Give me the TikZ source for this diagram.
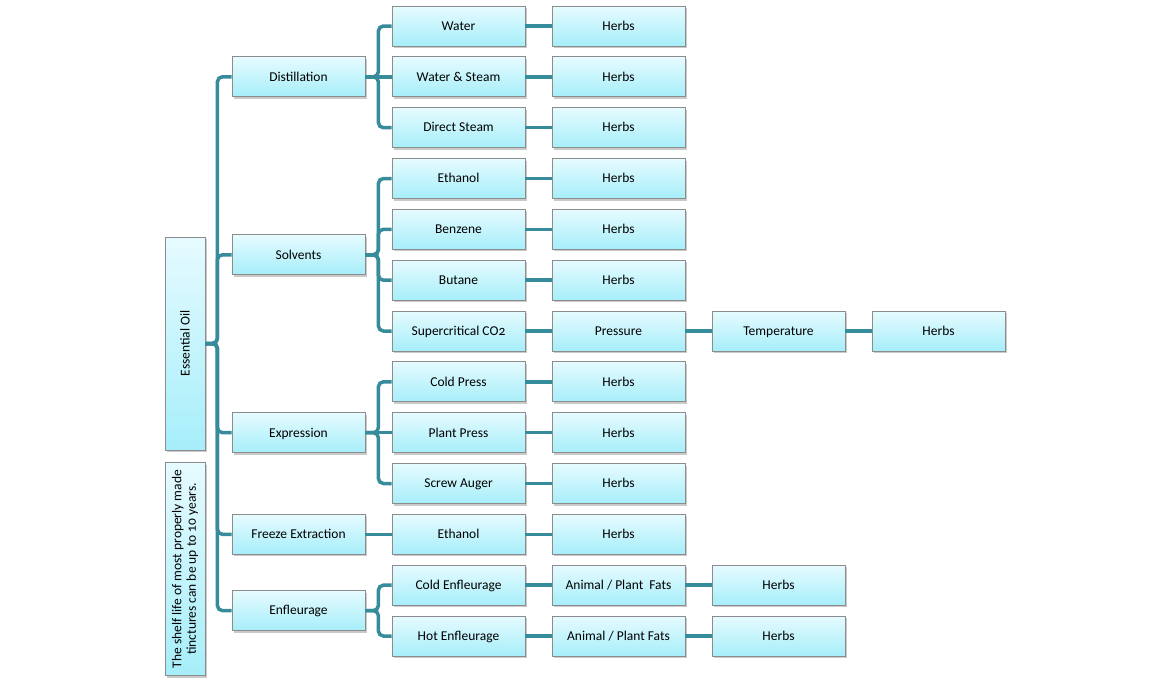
\documentclass[tikz,border=0pt]{standalone}
\usepackage{fontspec}
\setmainfont{Carlito}[Numbers=OldStyle]
\usepackage{tikz}
\usetikzlibrary{shadows}

\definecolor{boxtop}{RGB}{230,251,255}
\definecolor{boxbot}{RGB}{166,238,250}
\definecolor{boxline}{RGB}{140,140,140}
\definecolor{linkcol}{RGB}{55,140,155}

\tikzset{
  box/.style={draw=boxline, line width=0.8pt, top color=boxtop, bottom color=boxbot,
    minimum width=133pt, minimum height=40pt, inner sep=0pt,
    text height=2.2ex, text depth=.4ex,
    font=\fontsize{13.5}{15}\selectfont,
    drop shadow={shadow xshift=2pt, shadow yshift=-2pt, opacity=0.35, fill=black!60}},
  sidebox/.style={box, minimum width=40pt, minimum height=213pt, text height=, text depth=},
  link/.style={draw=linkcol, line width=3.5pt, rounded corners=5pt},
}

\begin{document}
\begin{tikzpicture}[x=1pt,y=-1pt]
  \useasboundingbox (0,0) rectangle (1170,688);

  %Shape: side boxes
  \node[sidebox] (root) at (185,343.5) {};
  \node[rotate=90, font=\fontsize{13.5}{15}\selectfont] at (root) {Essential Oil};
  \node[sidebox] (shelf) at (185,569) {};
  \node[rotate=90, align=center, font=\fontsize{13.5}{14.5}\selectfont] at (shelf)
    {The shelf life of most properly made\\tinctures can be up to 10 years.};

  % Methods
  \node[box] (dist) at (298.5,76.8) {Distillation};
  \node[box] (solv) at (298.5,254.8) {Solvents};
  \node[box] (expr) at (298.5,432.7) {Expression};
  \node[box] (frz)  at (298.5,534.3) {Freeze Extraction};
  \node[box] (enfl) at (298.5,610.6) {Enfleurage};

  % Variants
  \node[box] (water)  at (458.5,26)    {Water};
  \node[box] (wsteam) at (458.5,76.8)  {Water \& Steam};
  \node[box] (dsteam) at (458.5,127.7) {Direct Steam};
  \node[box] (eth)    at (458.5,178.5) {Ethanol};
  \node[box] (benz)   at (458.5,229.3) {Benzene};
  \node[box] (but)    at (458.5,280.2) {Butane};
  \node[box] (scco)   at (458.5,331)   {Supercritical CO2};
  \node[box] (cold)   at (458.5,381.8) {Cold Press};
  \node[box] (plant)  at (458.5,432.7) {Plant Press};
  \node[box] (screw)  at (458.5,483.5) {Screw Auger};
  \node[box] (feth)   at (458.5,534.3) {Ethanol};
  \node[box] (cenf)   at (458.5,585.2) {Cold Enfleurage};
  \node[box] (henf)   at (458.5,636)   {Hot Enfleurage};

  % Herbs
  \node[box] (h1)  at (618.5,26)    {Herbs};
  \node[box] (h2)  at (618.5,76.8)  {Herbs};
  \node[box] (h3)  at (618.5,127.7) {Herbs};
  \node[box] (h4)  at (618.5,178.5) {Herbs};
  \node[box] (h5)  at (618.5,229.3) {Herbs};
  \node[box] (h6)  at (618.5,280.2) {Herbs};
  \node[box] (pres) at (618.5,331)  {Pressure};
  \node[box] (h8)  at (618.5,381.8) {Herbs};
  \node[box] (h9)  at (618.5,432.7) {Herbs};
  \node[box] (h10) at (618.5,483.5) {Herbs};
  \node[box] (h11) at (618.5,534.3) {Herbs};
  \node[box] (fat1) at (618.5,585.2) {Animal / Plant\ \ Fats};
  \node[box] (fat2) at (618.5,636)   {Animal / Plant Fats};
  \node[box] (temp) at (778.5,331)   {Temperature};
  \node[box] (hf1)  at (778.5,585.2) {Herbs};
  \node[box] (hf2)  at (778.5,636)   {Herbs};
  \node[box] (hsc)  at (938.5,331)   {Herbs};

  %Straight Lines: trunk
  \draw[link] (root.east) -- ++(12,0) |- (dist.west);
  \draw[link] (root.east) -- ++(12,0) |- (solv.west);
  \draw[link] (root.east) -- ++(12,0) |- (expr.west);
  \draw[link] (root.east) -- ++(12,0) |- (frz.west);
  \draw[link] (root.east) -- ++(12,0) |- (enfl.west);

  %Straight Lines: branches
  \draw[link] (dist.east) -- ++(13,0) |- (water.west);
  \draw[link] (dist.east) -- (wsteam.west);
  \draw[link] (dist.east) -- ++(13,0) |- (dsteam.west);
  \draw[link] (solv.east) -- ++(13,0) |- (eth.west);
  \draw[link] (solv.east) -- ++(13,0) |- (benz.west);
  \draw[link] (solv.east) -- ++(13,0) |- (but.west);
  \draw[link] (solv.east) -- ++(13,0) |- (scco.west);
  \draw[link] (expr.east) -- ++(13,0) |- (cold.west);
  \draw[link] (expr.east) -- (plant.west);
  \draw[link] (expr.east) -- ++(13,0) |- (screw.west);
  \draw[link] (frz.east) -- (feth.west);
  \draw[link] (enfl.east) -- ++(13,0) |- (cenf.west);
  \draw[link] (enfl.east) -- ++(13,0) |- (henf.west);

  %Straight Lines: rows
  \draw[link] (water.east) -- (h1.west);
  \draw[link] (wsteam.east) -- (h2.west);
  \draw[link] (dsteam.east) -- (h3.west);
  \draw[link] (eth.east) -- (h4.west);
  \draw[link] (benz.east) -- (h5.west);
  \draw[link] (but.east) -- (h6.west);
  \draw[link] (scco.east) -- (pres.west);
  \draw[link] (pres.east) -- (temp.west);
  \draw[link] (temp.east) -- (hsc.west);
  \draw[link] (cold.east) -- (h8.west);
  \draw[link] (plant.east) -- (h9.west);
  \draw[link] (screw.east) -- (h10.west);
  \draw[link] (feth.east) -- (h11.west);
  \draw[link] (cenf.east) -- (fat1.west);
  \draw[link] (fat1.east) -- (hf1.west);
  \draw[link] (henf.east) -- (fat2.west);
  \draw[link] (fat2.east) -- (hf2.west);
\end{tikzpicture}
\end{document}
